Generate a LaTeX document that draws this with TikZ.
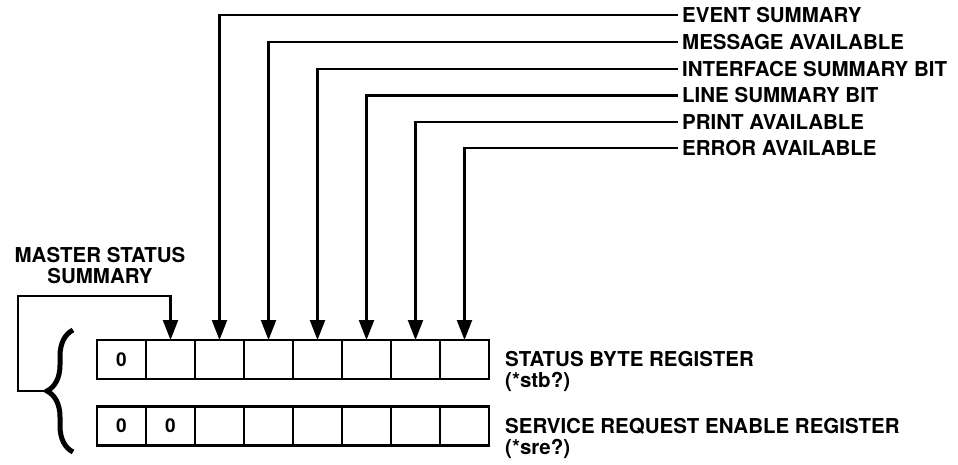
\documentclass[tikz,border=0pt]{standalone}
\usepackage{fontspec}
\setmainfont{TeX Gyre Heros}
\usetikzlibrary{arrows.meta,positioning,decorations.pathreplacing}

\begin{document}
\begin{tikzpicture}[x=1pt,y=-1pt,
    lbl/.style={font=\fontsize{20.5}{21}\selectfont\bfseries, inner xsep=4pt, inner ysep=2pt},
    cell/.style={draw, line width=2.4pt, outer sep=0pt, inner sep=0pt,
        minimum width=49pt, minimum height=39pt, font=\fontsize{19}{20}\selectfont\bfseries},
    feed/.style={line width=2.2pt, -{Triangle[length=20pt,width=15pt]}}]
    \useasboundingbox (0,0) rectangle (958,464);

    % Status byte register
    \node[cell] (stb1) at (121.5,359.5) {0};
    \foreach \i [count=\p from 1] in {2,...,8}
        \node[cell, right=0pt of stb\p] (stb\i) {};

    % Service request enable register
    \node[cell] (sre1) at (121.5,426) {0};
    \node[cell, right=0pt of sre1] (sre2) {0};
    \foreach \i [count=\p from 2] in {3,...,8}
        \node[cell, right=0pt of sre\p] (sre\i) {};

    % Register names
    \node[lbl, anchor=west, align=left] (stbname) at (501,371) {STATUS BYTE REGISTER\\(*stb?)};
    \node[lbl, anchor=west, align=left] (srename) at (501,438) {SERVICE REQUEST ENABLE REGISTER\\(*sre?)};

    % Summary bits
    \foreach \t/\y/\c in {EVENT SUMMARY/15/3, MESSAGE AVAILABLE/42/4,
        INTERFACE SUMMARY BIT/69/5, LINE SUMMARY BIT/95.5/6,
        PRINT AVAILABLE/122/7, ERROR AVAILABLE/148/8} {
        \node[lbl, anchor=west] (bit\c) at (678,\y) {\t};
        \draw[feed] (bit\c.west) -| (stb\c.north);
    }

    % Brace and master status summary
    \draw[decorate, decoration={brace, amplitude=26pt}, line width=5pt] (73,452) -- (73,330);
    \coordinate (bracetip) at (46,391);
    \node[lbl, align=center] (master) at (100,266) {MASTER STATUS\\SUMMARY};
    \draw[feed] (bracetip) -- (18,391) -- (18,296) -| (stb2.north);

\end{tikzpicture}
\end{document}
